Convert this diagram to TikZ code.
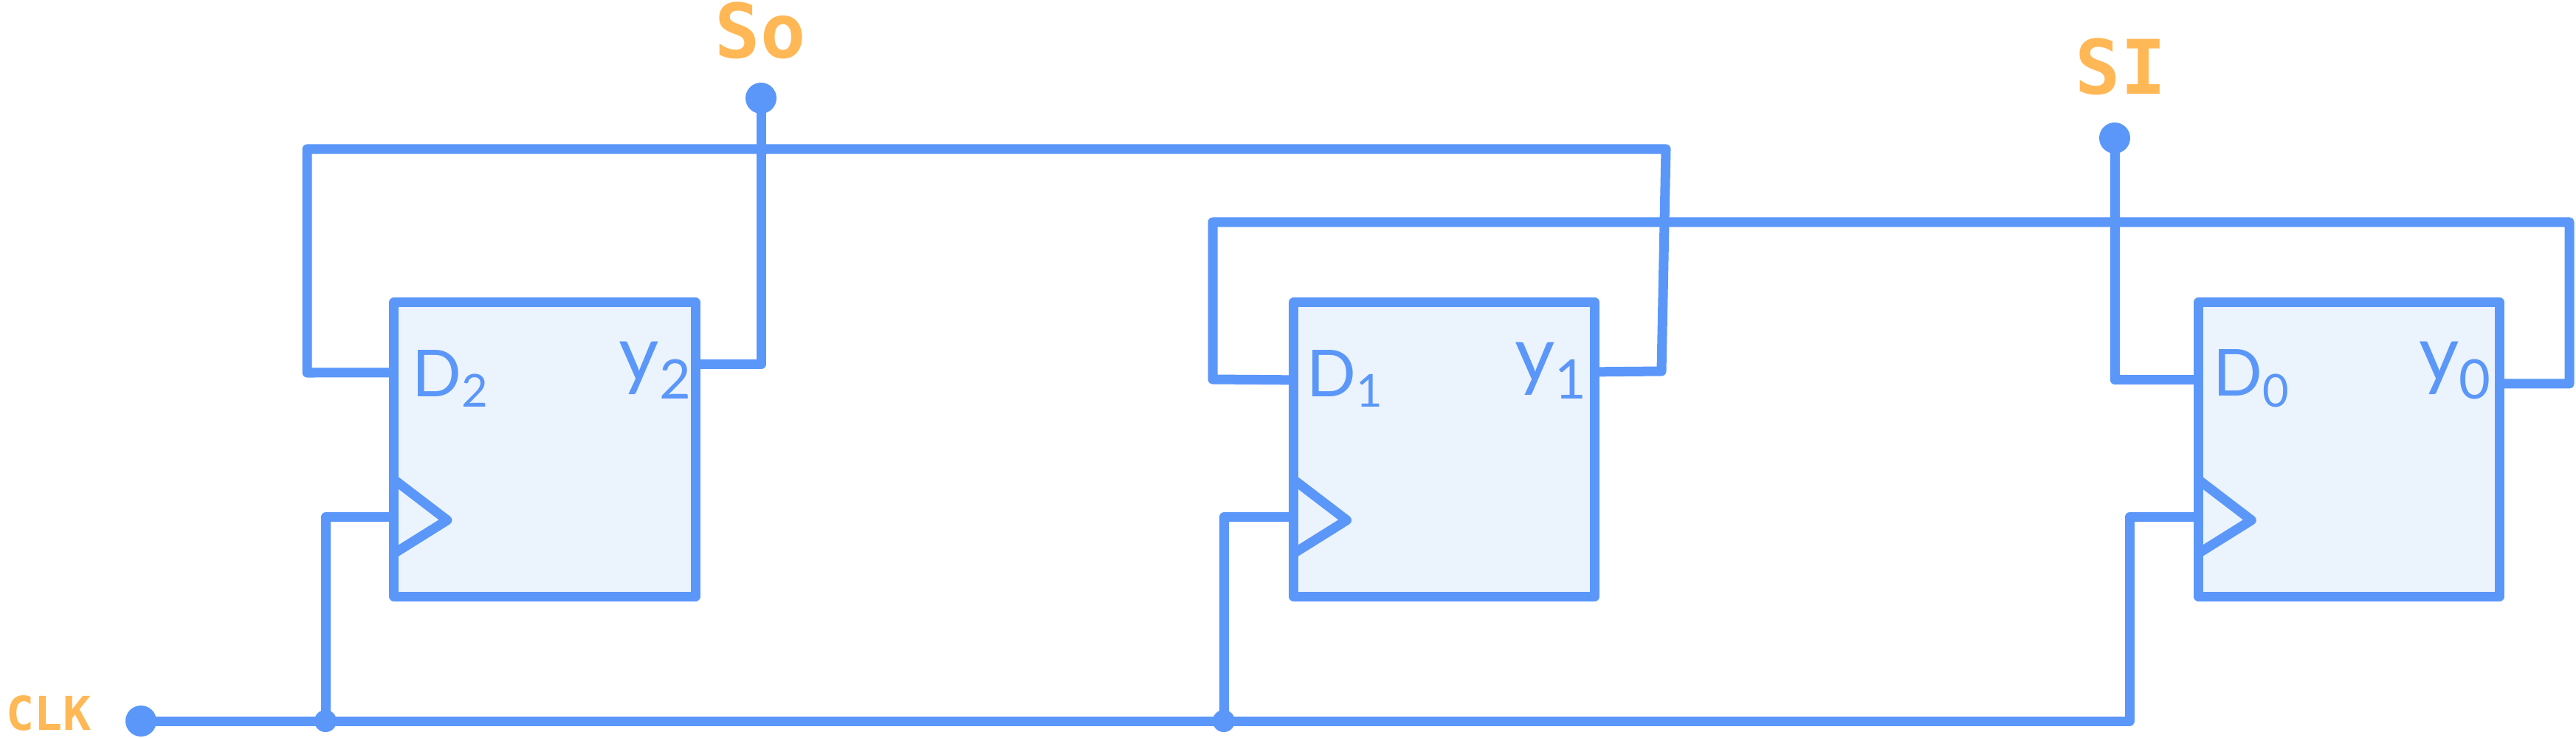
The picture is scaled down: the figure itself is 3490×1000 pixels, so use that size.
\documentclass[tikz,border=0pt]{standalone}
\usepackage{fontspec}
\setmainfont{Lato}
\newfontfamily\sigfont{DejaVu Sans Mono}
\usetikzlibrary{positioning, calc}
\definecolor{wireblue}{HTML}{5B97F9}
\definecolor{boxblue}{HTML}{EBF3FD}
\definecolor{lblorange}{HTML}{FFB855}
\tikzset{
  ff/.style={draw=wireblue, fill=boxblue, line width=0.13cm, line join=round, outer sep=0pt, minimum width=4.08cm, minimum height=3.98cm},
  wire/.style={draw=wireblue, line width=0.13cm, line join=round},
  term/.style={circle, fill=wireblue, inner sep=0pt, minimum size=0.42cm},
  junc/.style={circle, fill=wireblue, inner sep=0pt, minimum size=0.3cm},
  pin/.style={text=wireblue, font=\fontsize{25}{25}\selectfont, inner sep=0pt},
  qpin/.style={text=wireblue, font=\fontsize{30}{30}\selectfont, inner sep=0pt},
  sig/.style={text=lblorange, font=\sigfont\bfseries\fontsize{29}{29}\selectfont, inner sep=0pt}
}
\begin{document}
\begin{tikzpicture}[x=0.01cm, y=-0.01cm]
\useasboundingbox (0,0) rectangle (3490,1000);
\node[ff] (ff2) at (738,609) {};
\node[ff, right=8.1cm of ff2] (ff1) {};
\node[ff, right=8.17cm of ff1] (ff0) {};
\node[pin] (d2) at ($(ff2.north west)+(77,103)$) {D\textsubscript{2}};
\node[qpin] (q2) at ($(ff2.north east)+(-54,92)$) {y\textsubscript{2}};
\node[pin] (d1) at ($(ff1.north west)+(70,103)$) {D\textsubscript{1}};
\node[qpin] (q1) at ($(ff1.north east)+(-59,92)$) {y\textsubscript{1}};
\node[pin] (d0) at ($(ff0.north west)+(72,103)$) {D\textsubscript{0}};
\node[qpin] (q0) at ($(ff0.north east)+(-60,92)$) {y\textsubscript{0}};
\node[term] (sopin) at (1031,133) {};
\node[term] (sipin) at (2865,187) {};
\node[term] (clkpin) at (191,977) {};
\node[junc] (j2) at (441,977) {};
\node[junc] (j1) at (1658,977) {};
\node[sig] (so) at (1030,41) {So};
\node[sig] (si) at (2873,90) {SI};
\node[sig, font=\sigfont\bfseries\fontsize{18}{18}\selectfont] (clk) at (66,966) {CLK};
\coordinate (din2) at ($(ff2.north west)+(0,95)$);
\coordinate (din1) at ($(ff1.north west)+(0,105)$);
\coordinate (din0) at ($(ff0.north west)+(0,105)$);
\coordinate (qout2) at ($(ff2.north east)+(0,84)$);
\coordinate (qout1) at ($(ff1.north east)+(0,94)$);
\coordinate (qout0) at ($(ff0.north east)+(0,110)$);
\coordinate (ck2) at ($(ff2.north west)+(0,291)$);
\coordinate (ck1) at ($(ff1.north west)+(0,291)$);
\coordinate (ck0) at ($(ff0.north west)+(0,291)$);
\draw[wire] ($(ff2.north west)+(0,240)$) -- ($(ck2)+(72,4)$) -- ($(ff2.north west)+(0,340)$);
\draw[wire] ($(ff1.north west)+(0,240)$) -- ($(ck1)+(72,4)$) -- ($(ff1.north west)+(0,340)$);
\draw[wire] ($(ff0.north west)+(0,240)$) -- ($(ck0)+(72,4)$) -- ($(ff0.north west)+(0,340)$);
\draw[wire] (qout2) -| (sopin.center);
\draw[wire] (din2) -- (416,505) |- (2257,202) -- (2251,503) -- (qout1);
\draw[wire] (din1) -- (1643,514) |- (3481,301) |- (qout0);
\draw[wire] (sipin.center) |- (din0);
\draw[wire] (clkpin.center) -- (j2.center) -- (j1.center) -- (2885,977) |- (ck0);
\draw[wire] (j2.center) |- (ck2);
\draw[wire] (j1.center) |- (ck1);
\end{tikzpicture}
\end{document}
